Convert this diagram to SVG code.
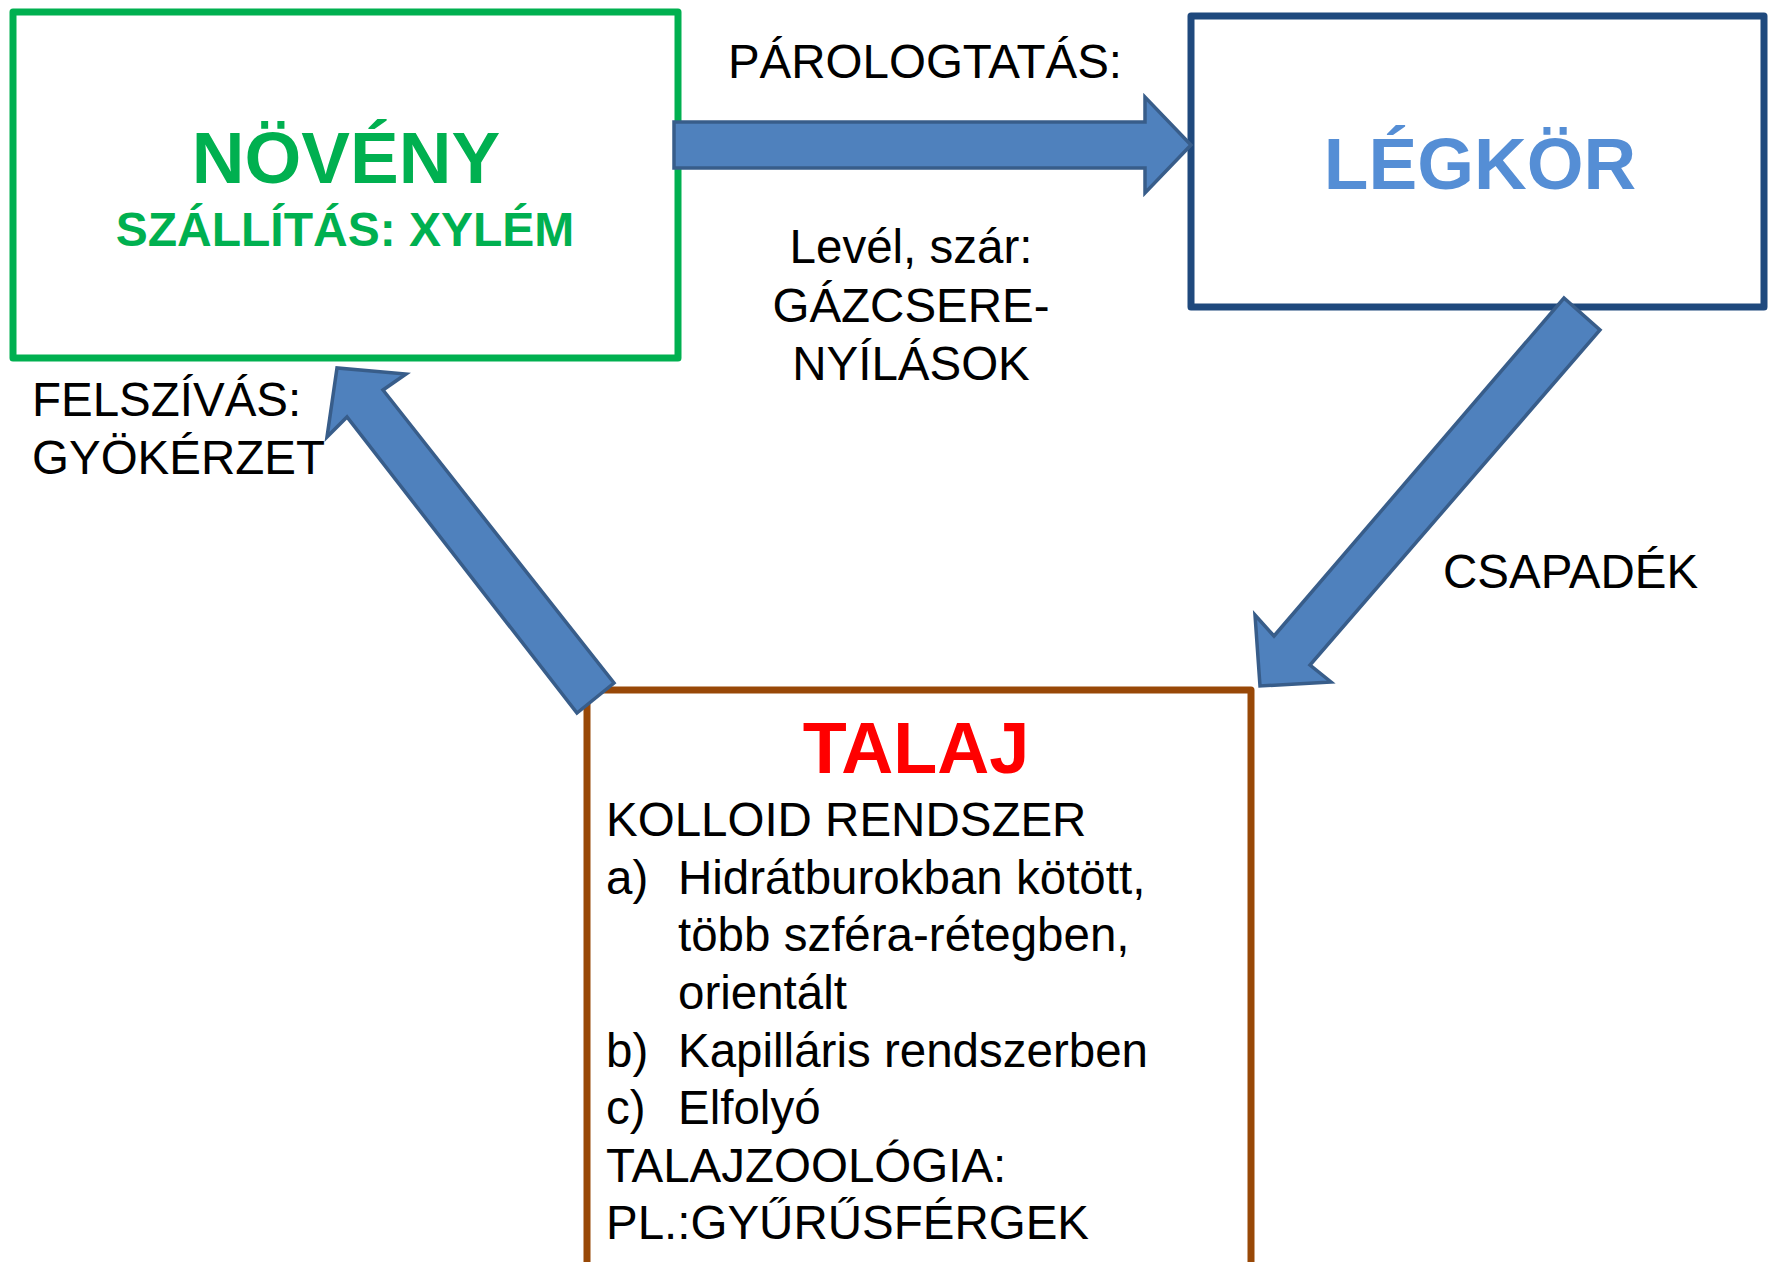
<svg xmlns="http://www.w3.org/2000/svg" width="1771" height="1262" viewBox="0 0 1771 1262">
<style>
.box{fill:#ffffff;stroke-width:7;stroke-linejoin:round}
.t{font-family:"Liberation Sans",Arial,sans-serif;font-size:47.5px;fill:#000000}
.b{font-family:"Liberation Sans",Arial,sans-serif;font-weight:bold}
.arrow{fill:#4F81BD;stroke:#385D8A;stroke-width:3.5;stroke-linejoin:miter}
</style>
<rect width="1771" height="1262" fill="#ffffff"/>
<g id="noveny">
<rect class="box" x="13" y="12" width="665" height="346" stroke="#00B050"/>
<text class="b" x="346" y="183" font-size="73" fill="#00B050" text-anchor="middle">NÖVÉNY</text>
<text class="b" x="345" y="246" font-size="48" fill="#00B050" text-anchor="middle">SZÁLLÍTÁS: XYLÉM</text>
</g>
<g id="legkor">
<rect class="box" x="1191" y="16" width="573" height="291" stroke="#1F497D"/>
<text class="b" x="1480" y="189" font-size="73" fill="#558ED5" text-anchor="middle">LÉGKÖR</text>
</g>
<g id="talaj">
<rect class="box" x="587" y="690" width="664" height="600" stroke="#984807"/>
<text class="b" x="916" y="773" font-size="72" fill="#FF0000" text-anchor="middle">TALAJ</text>
<text class="t" x="606" y="836">KOLLOID RENDSZER</text>
<text class="t" x="606" y="894">a)</text>
<text class="t" x="678" y="894">Hidrátburokban kötött,</text>
<text class="t" x="678" y="951">több szféra-rétegben,</text>
<text class="t" x="678" y="1009">orientált</text>
<text class="t" x="606" y="1067">b)</text>
<text class="t" x="678" y="1067">Kapilláris rendszerben</text>
<text class="t" x="606" y="1124">c)</text>
<text class="t" x="678" y="1124">Elfolyó</text>
<text class="t" x="606" y="1182">TALAJZOOLÓGIA:</text>
<text class="t" x="606" y="1239">PL.:GYŰRŰSFÉRGEK</text>
</g>
<g id="connectors">
<polygon class="arrow" points="674,122 1145,122 1145,97 1191,145 1145,193 1145,168 674,168"/>
<polygon class="arrow" points="1564,298 1600,330 1310,665 1331,682 1260,686 1255,615 1274,636"/>
<polygon class="arrow" points="577,713 614,683 383,390 406,374 337,368 327,437 347,417"/>
</g>
<g id="labels">
<text class="t" x="925" y="78" text-anchor="middle">PÁROLOGTATÁS:</text>
<text class="t" x="911" y="263" text-anchor="middle">Levél, szár:</text>
<text class="t" x="911" y="322" text-anchor="middle">GÁZCSERE-</text>
<text class="t" x="911" y="380" text-anchor="middle">NYÍLÁSOK</text>
<text class="t" x="32" y="416">FELSZÍVÁS:</text>
<text class="t" x="32" y="474">GYÖKÉRZET</text>
<text class="t" x="1443" y="588">CSAPADÉK</text>
</g>
</svg>
